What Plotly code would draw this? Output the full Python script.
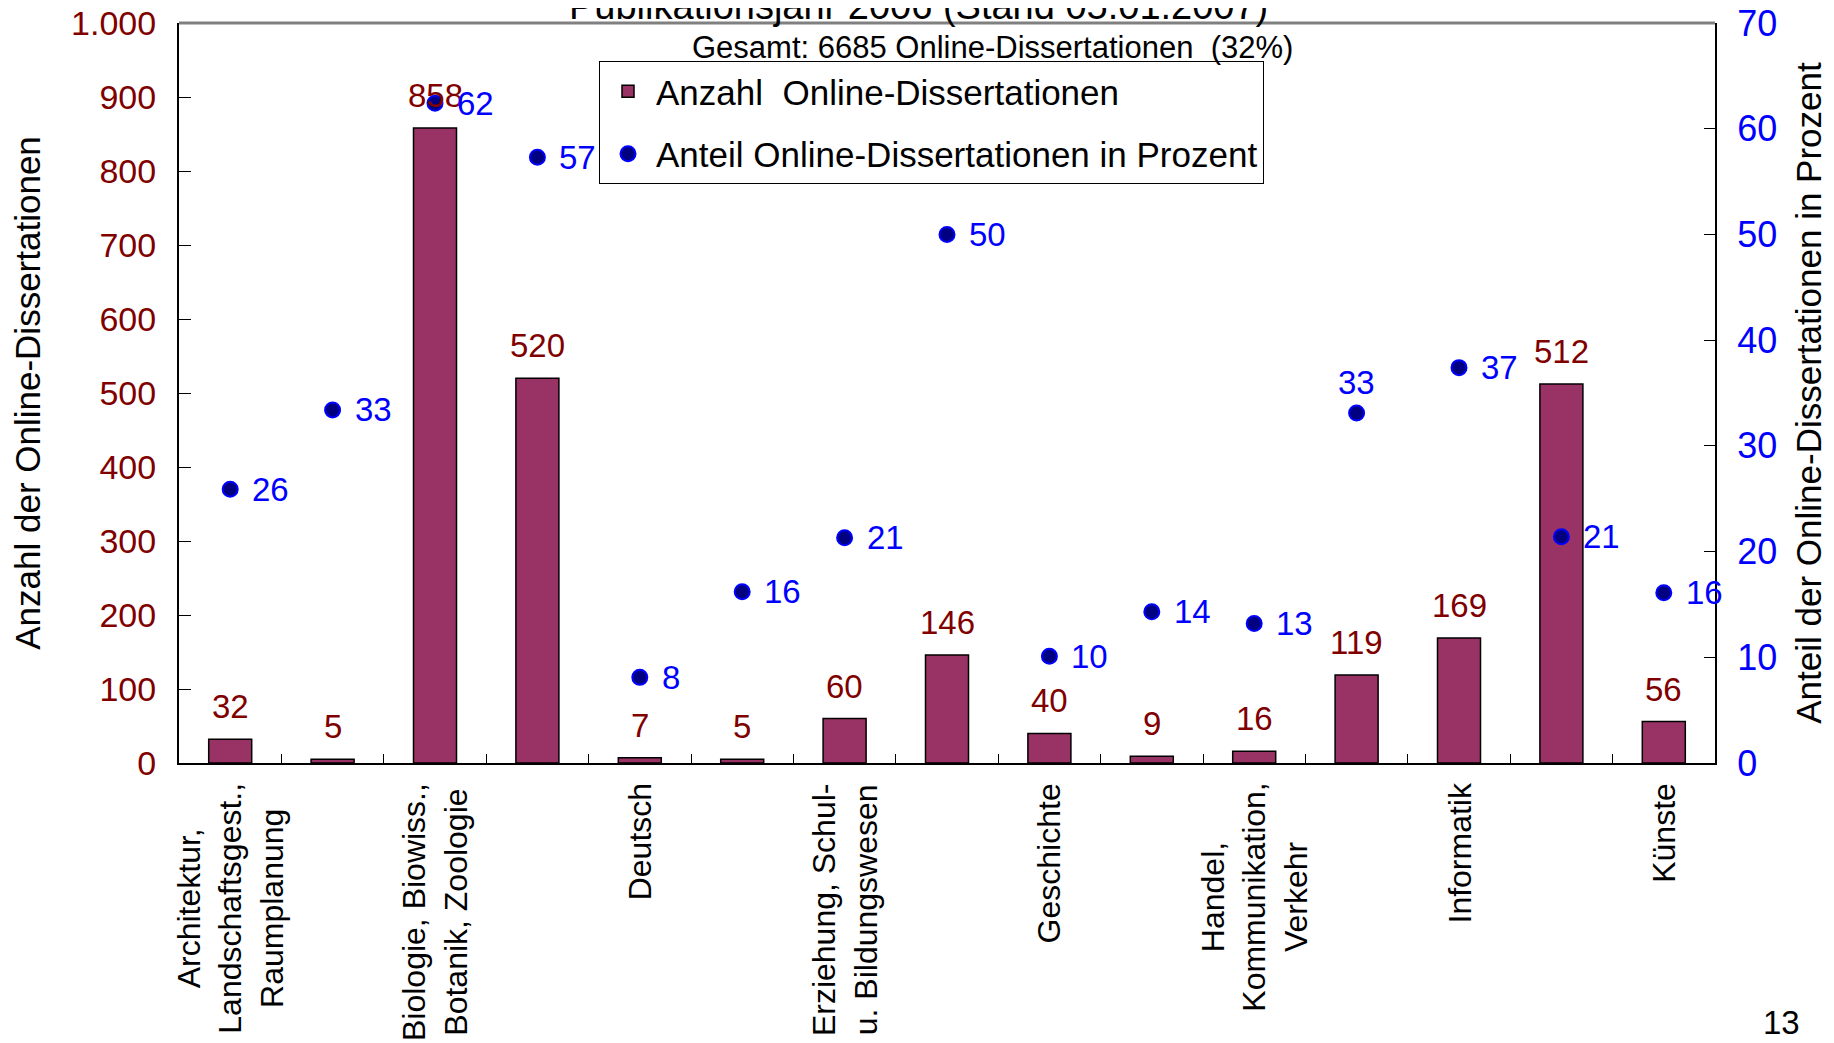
import plotly.graph_objects as go

# ---- data ----
category_labels = [
    "Architektur,<br>Landschaftsgest.,<br>Raumplanung", "",
    "Biologie, Biowiss.,<br>Botanik, Zoologie", "",
    "Deutsch", "",
    "Erziehung, Schul-<br>u. Bildungswesen", "",
    "Geschichte", "",
    "Handel,<br>Kommunikation,<br>Verkehr", "",
    "Informatik", "",
    "Künste",
]
anzahl = [32, 5, 858, 520, 7, 5, 60, 146, 40, 9, 16, 119, 169, 512, 56]
anteil = [25.9, 33.4, 62.4, 57.3, 8.1, 16.2, 21.3, 50.0, 10.1, 14.3, 13.2, 33.1, 37.4, 21.4, 16.1]
anteil_label_above = [False] * 15
anteil_label_above[11] = True

title_text = "Publikationsjahr 2006 (Stand 05.01.2007)"
subtitle_text = "Gesamt: 6685 Online-Dissertationen  (32%)"
page_no = "13"

FONT = "Liberation Sans, Arial, sans-serif"
idx = list(range(len(anzahl)))

# page body has an 8px default margin -> compensate
OFF = 8
PL, PT, PW, PH = 179, 23, 1536, 740   # plot area in window pixels

fig = go.Figure()
fig.add_trace(go.Bar(
    x=idx, y=anzahl, name="Anzahl\u00a0\u00a0Online-Dissertationen",
    marker=dict(color="#993366", line=dict(color="black", width=1.5)),
    width=0.42, legendgroup="a",
))
fig.add_trace(go.Scatter(
    x=idx, y=anteil, yaxis="y2", mode="markers",
    name="Anteil Online-Dissertationen in Prozent",
    marker=dict(color="#000080", size=15, line=dict(color="#0000FF", width=2)),
    legendgroup="b", cliponaxis=False,
))


def px(xw):
    return (xw - PL) / PW


def py(yw):
    return (PT + PH - yw) / PH


annotations = []
for i, v in zip(idx, anzahl):
    annotations.append(dict(
        x=i, xref="x", y=v, yref="y", xanchor="center", yanchor="bottom",
        yshift=12, text=str(v), showarrow=False,
        font=dict(family=FONT, size=33, color="#800000"),
    ))
for i, v, above in zip(idx, anteil, anteil_label_above):
    if above:
        annotations.append(dict(
            x=i, xref="x", y=v, yref="y2", xanchor="center", yanchor="bottom",
            yshift=10, text=f"{v:.0f}", showarrow=False,
            font=dict(family=FONT, size=33, color="#0000FF"),
        ))
    else:
        annotations.append(dict(
            x=i, xref="x", y=v, yref="y2", xanchor="left", yanchor="middle",
            xshift=20, text=f"{v:.0f}", showarrow=False,
            font=dict(family=FONT, size=33, color="#0000FF"),
        ))
for i, lab in enumerate(category_labels):
    if lab:
        annotations.append(dict(
            x=i, xref="x", y=0, yref="paper", yanchor="top", xanchor="center",
            yshift=-18, text=lab, textangle=-90, align="center", showarrow=False,
            font=dict(family=FONT, size=32, color="black"),
        ))
annotations.append(dict(
    x=px(918), xref="paper", y=py(29), yref="paper",
    yanchor="bottom", xanchor="center", text=title_text, showarrow=False,
    font=dict(family=FONT, size=38, color="black"),
))
annotations.append(dict(
    x=px(992), xref="paper", y=py(47), yref="paper",
    yanchor="middle", xanchor="center", text=subtitle_text, showarrow=False,
    font=dict(family=FONT, size=31, color="black"),
))
annotations.append(dict(
    x=px(1781), xref="paper", y=py(1022), yref="paper",
    yanchor="middle", xanchor="center", text=page_no, showarrow=False,
    font=dict(family=FONT, size=33, color="black"),
))

W, H = 1834 - OFF, 1043 - OFF
fig.update_layout(
    width=W, height=H,
    margin=dict(l=PL - OFF, r=W - (PL - OFF) - PW, t=PT - OFF, b=H - (PT - OFF) - PH,
                autoexpand=False),
    paper_bgcolor="white", plot_bgcolor="white",
    separators=",.",
    font=dict(family=FONT, size=33, color="black"),
    showlegend=True,
    legend=dict(
        x=px(599), y=py(61), xanchor="left", yanchor="top",
        bgcolor="white", bordercolor="black", borderwidth=1,
        font=dict(family=FONT, size=35, color="black"),
        tracegroupgap=14, itemwidth=46,
    ),
    xaxis=dict(
        range=[-0.5, 14.5], showgrid=False, zeroline=False, automargin=False,
        showline=True, linecolor="black", linewidth=2,
        tickvals=[i + 0.5 for i in range(14)], ticks="inside", ticklen=9,
        tickcolor="black", tickwidth=1, showticklabels=False,
    ),
    yaxis=dict(
        range=[0, 1000], dtick=100, tickformat=",d", showgrid=False, zeroline=False,
        automargin=False, ticklabeloverflow="allow",
        showline=True, linecolor="black", linewidth=2,
        ticks="inside", ticklen=12, tickcolor="black",
        tickfont=dict(family=FONT, size=34, color="#800000"),
        ticklabelstandoff=14,
        title=dict(text="Anzahl der Online-Dissertationen",
                   font=dict(family=FONT, size=35, color="black"), standoff=22),
    ),
    yaxis2=dict(
        range=[0, 70], dtick=10, overlaying="y", side="right",
        showgrid=False, zeroline=False, automargin=False, ticklabeloverflow="allow",
        showline=True, linecolor="black", linewidth=2,
        ticks="inside", ticklen=11, tickcolor="black",
        tickfont=dict(family=FONT, size=36, color="#0000FF"),
        ticklabelstandoff=13,
        title=dict(text="Anteil der Online-Dissertationen in Prozent",
                   font=dict(family=FONT, size=35, color="black"), standoff=20),
    ),
    annotations=annotations,
    shapes=[dict(type="line", xref="paper", yref="paper", x0=0, x1=1, y0=1, y1=1,
                 line=dict(color="#808080", width=3))],
)

fig.write_html("out.html")
